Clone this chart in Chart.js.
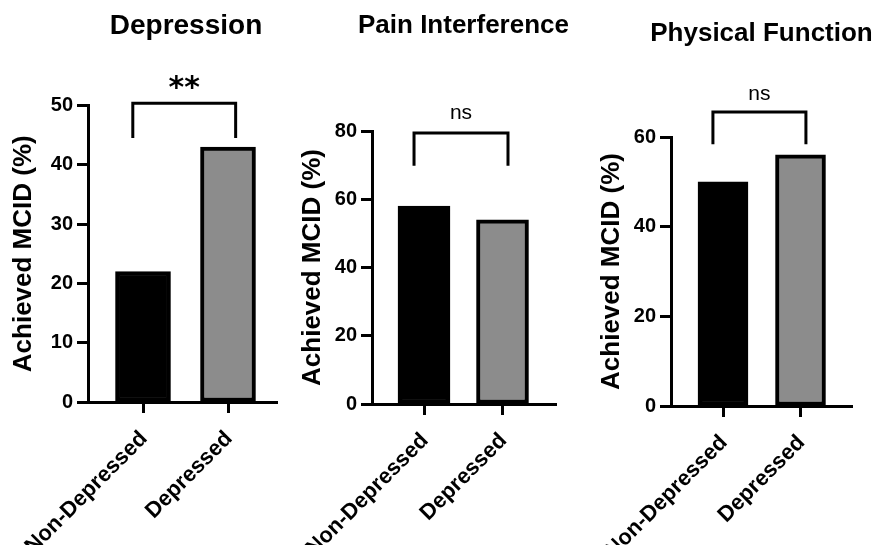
<!DOCTYPE html>
<html>
<head>
<meta charset="utf-8">
<script src="https://cdn.jsdelivr.net/npm/chart.js@4.4.1/dist/chart.umd.min.js"></script>
<style>
  html, body { margin: 0; padding: 0; background: #fff; }
  #wrap { position: relative; width: 874px; height: 545px; overflow: hidden; }
  canvas { position: absolute; top: 0; }
</style>
</head>
<body>
<div id="wrap">
  <canvas id="c0" width="290" height="545" style="left:0px"></canvas>
  <canvas id="c1" width="290" height="545" style="left:290px"></canvas>
  <canvas id="c2" width="294" height="545" style="left:580px"></canvas>
</div>
<script>
const FONT = '"Liberation Sans", Arial, Helvetica, sans-serif';

// data
const categories = ['Non-Depressed', 'Depressed'];
const titles = ['Depression', 'Pain Interference', 'Physical Function'];
const depressionValues = [22, 43];
const painValues = [58, 54];
const physicalValues = [50, 56];
const yMax = [50, 80, 60];
const yStep = [10, 20, 20];
const significance = ['**', 'ns', 'ns'];
const barColors = ['#000000', '#8c8c8c'];

// panel geometry (page pixels) + bracket placement in axis units
const panels = [
  { id: 'c0', values: depressionValues, x0: 0, w: 290, left: 88, right: 277, top: 105.5, bottom: 402,
    c0: 143, c1: 228, barW: 55, titleX: 186, titleY: 26, titleSize: 28, yTitleX: 24,
    bracket: { from: -0.12, to: 1.09, top: 50.4, leg: 44.5, label: 51.4, font: 'bold 30px "DejaVu Sans"' } },
  { id: 'c1', values: painValues, x0: 290, w: 290, left: 372, right: 556, top: 131, bottom: 404,
    c0: 424, c1: 502.5, barW: 52, titleX: 463.5, titleY: 26, titleSize: 26, yTitleX: 23,
    bracket: { from: -0.127, to: 1.07, top: 79.4, leg: 69.8, label: 83.5, font: '21px ' + FONT } },
  { id: 'c2', values: physicalValues, x0: 580, w: 294, left: 671, right: 852, top: 137, bottom: 406,
    c0: 723, c1: 800.5, barW: 50, titleX: 761.5, titleY: 34, titleSize: 26, yTitleX: 32,
    bracket: { from: -0.13, to: 1.07, top: 65.6, leg: 58.4, label: 68.2, font: '21px ' + FONT } }
];

// bracket + significance text
const bracketPlugin = {
  id: 'bracket',
  afterDraw(chart, args, o) {
    const { ctx, scales: { x, y } } = chart;
    const x1 = x.getPixelForValue(o.from), x2 = x.getPixelForValue(o.to);
    const yt = y.getPixelForValue(o.top), yl = y.getPixelForValue(o.leg);
    ctx.save();
    ctx.strokeStyle = '#000';
    ctx.lineWidth = 3;
    ctx.lineJoin = 'miter';
    ctx.beginPath();
    ctx.moveTo(x1, yl);
    ctx.lineTo(x1, yt);
    ctx.lineTo(x2, yt);
    ctx.lineTo(x2, yl);
    ctx.stroke();
    ctx.fillStyle = '#000';
    ctx.textAlign = 'center';
    ctx.textBaseline = 'alphabetic';
    ctx.font = o.font;
    ctx.fillText(o.text, (x1 + x2) / 2, y.getPixelForValue(o.label));
    ctx.restore();
  }
};

// panel title, placed freely (the built-in title squeezes to the chart width)
const panelTitle = {
  id: 'panelTitle',
  afterDraw(chart, args, o) {
    const ctx = chart.ctx;
    ctx.save();
    ctx.fillStyle = '#000';
    ctx.textAlign = 'center';
    ctx.textBaseline = 'middle';
    ctx.font = `bold ${o.size}px ${FONT}`;
    ctx.fillText(o.text, o.x, o.y);
    ctx.restore();
  }
};

panels.forEach((p, i) => {
  const unit = p.c1 - p.c0;
  const yTitleSize = 26;

  new Chart(document.getElementById(p.id), {
    type: 'bar',
    data: {
      datasets: [{
        data: p.values.map((v, k) => ({ x: k, y: v })),
        backgroundColor: barColors,
        borderColor: '#000',
        borderWidth: 4,
        borderSkipped: false,
        barThickness: p.barW
      }]
    },
    plugins: [bracketPlugin, panelTitle],
    options: {
      responsive: false,
      animation: false,
      layout: { padding: { left: 0, right: p.w - (p.right - p.x0), top: p.top, bottom: 0 } },
      plugins: {
        legend: { display: false },
        tooltip: { enabled: false },
        title: { display: false },
        panelTitle: { text: titles[i], x: p.titleX - p.x0, y: p.titleY, size: p.titleSize },
        bracket: Object.assign({ text: significance[i] }, p.bracket)
      },
      scales: {
        x: {
          type: 'linear',
          offset: false,
          bounds: 'data',
          min: -(p.c0 - p.left) / unit,
          max: 1 + (p.right - p.c1) / unit,
          afterBuildTicks: s => { s.ticks = categories.map((c, k) => ({ value: k })); },
          afterFit: s => {
            s.height = 545 - p.bottom;
            s.paddingLeft = 0;
            s.paddingRight = 0;
          },
          grid: { display: true, offset: false, drawOnChartArea: false, drawTicks: true, tickLength: 11, tickWidth: 3, tickColor: '#000' },
          border: { display: true, color: '#000', width: 3 },
          ticks: {
            autoSkip: false,
            minRotation: 45,
            maxRotation: 45,
            padding: 13,
            labelOffset: 1,
            color: '#000',
            font: { family: FONT, size: 22, weight: 'bold' },
            callback: v => categories[v]
          }
        },
        y: {
          min: 0,
          max: yMax[i],
          afterFit: s => { s.width = p.left - p.x0; },
          grid: { display: true, drawOnChartArea: false, drawTicks: true, tickLength: 11, tickWidth: 3, tickColor: '#000' },
          border: { display: true, color: '#000', width: 3 },
          ticks: {
            stepSize: yStep[i],
            padding: 4,
            color: '#000',
            font: { family: FONT, size: 20, weight: 'bold' }
          },
          title: {
            display: true,
            text: 'Achieved MCID (%)',
            color: '#000',
            font: { family: FONT, size: yTitleSize, weight: 'bold', lineHeight: 1.2 },
            padding: { top: p.yTitleX - yTitleSize * 0.6, bottom: 0 }
          }
        }
      }
    }
  });
});
</script>
</body>
</html>
